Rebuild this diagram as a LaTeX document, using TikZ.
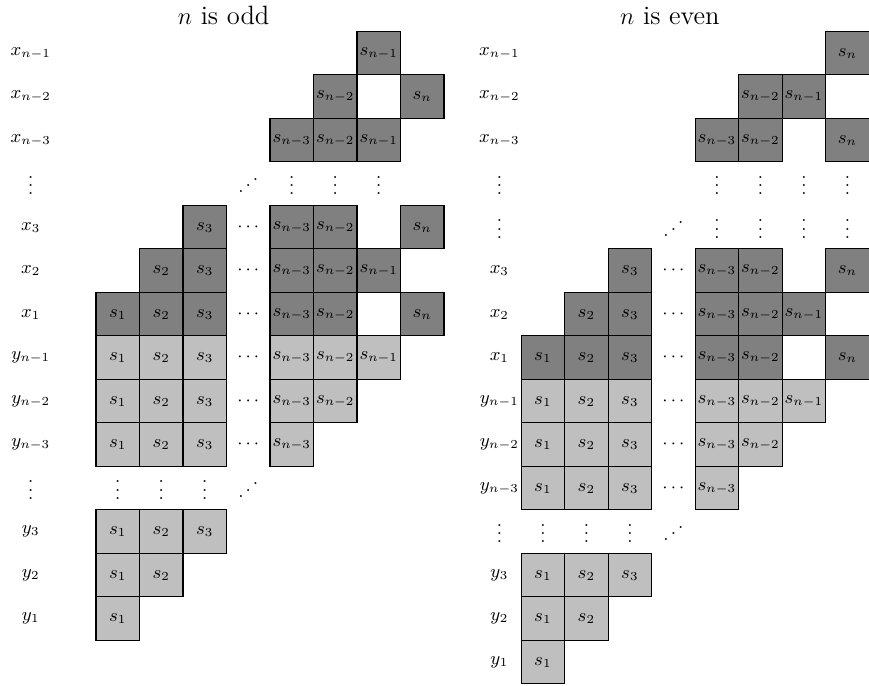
\documentclass[tikz,border=0pt]{standalone}
\usepackage{graphicx}
\newcommand\myiddots{\reflectbox{$\ddots$}}
\newcommand\Lc[4]{\node[#1] (L#2-#3) at ({1.707+#3},{1.22+#2}) {$#4$};}
\newcommand\Rc[4]{\node[#1] (R#2-#3) at ({11.48+#3},{1.22+#2}) {$#4$};}
\begin{document}
\begin{tikzpicture}[x=0.75cm,y=-0.75cm,font=\small,
  dk/.style={draw=black,fill=black!50,minimum size=0.75cm,inner sep=0pt,line width=0.5pt},
  lt/.style={draw=black,fill=black!25,minimum size=0.75cm,inner sep=0pt,line width=0.5pt},
  tx/.style={inner sep=0pt},
  vd/.style={inner sep=0pt,yshift=2pt},
  ttl/.style={inner sep=0pt,font=\fontsize{13}{15}\selectfont}]
\useasboundingbox (0,0) rectangle (19.977,15.77);
% titles
\node[ttl] (tL) at (5.14,0.36) {$n$ is odd};
\node[ttl] (tR) at (15.40,0.36) {$n$ is even};
% ---------- left (n odd) ----------
\node[tx] (lab0) at (0.707,1.22) {$x_{n-1}$};
\node[tx] (lab1) at (0.707,2.22) {$x_{n-2}$};
\node[tx] (lab2) at (0.707,3.22) {$x_{n-3}$};
\node[vd] (lab3) at (0.707,4.22) {$\vdots$};
\node[tx] (lab4) at (0.707,5.22) {$x_3$};
\node[tx] (lab5) at (0.707,6.22) {$x_2$};
\node[tx] (lab6) at (0.707,7.22) {$x_1$};
\node[tx] (lab7) at (0.707,8.22) {$y_{n-1}$};
\node[tx] (lab8) at (0.707,9.22) {$y_{n-2}$};
\node[tx] (lab9) at (0.707,10.22) {$y_{n-3}$};
\node[vd] (lab10) at (0.707,11.22) {$\vdots$};
\node[tx] (lab11) at (0.707,12.22) {$y_3$};
\node[tx] (lab12) at (0.707,13.22) {$y_2$};
\node[tx] (lab13) at (0.707,14.22) {$y_1$};
% row 0
\Lc{dk}{0}{7}{s_{n-1}}
% row 1
\Lc{dk}{1}{6}{s_{n-2}}
\Lc{dk}{1}{8}{s_n}
% row 2
\Lc{dk}{2}{5}{s_{n-3}}
\Lc{dk}{2}{6}{s_{n-2}}
\Lc{dk}{2}{7}{s_{n-1}}
% row 3
\node[vd] (L3-4) at ({1.707+4},4.22) {\myiddots};
\Lc{vd}{3}{5}{\vdots}
\Lc{vd}{3}{6}{\vdots}
\Lc{vd}{3}{7}{\vdots}
% row 4
\Lc{dk}{4}{3}{s_3}
\Lc{tx}{4}{4}{\cdots}
\Lc{dk}{4}{5}{s_{n-3}}
\Lc{dk}{4}{6}{s_{n-2}}
\Lc{dk}{4}{8}{s_n}
% row 5
\Lc{dk}{5}{2}{s_2}
\Lc{dk}{5}{3}{s_3}
\Lc{tx}{5}{4}{\cdots}
\Lc{dk}{5}{5}{s_{n-3}}
\Lc{dk}{5}{6}{s_{n-2}}
\Lc{dk}{5}{7}{s_{n-1}}
% row 6
\Lc{dk}{6}{1}{s_1}
\Lc{dk}{6}{2}{s_2}
\Lc{dk}{6}{3}{s_3}
\Lc{tx}{6}{4}{\cdots}
\Lc{dk}{6}{5}{s_{n-3}}
\Lc{dk}{6}{6}{s_{n-2}}
\Lc{dk}{6}{8}{s_n}
% row 7
\Lc{lt}{7}{1}{s_1}
\Lc{lt}{7}{2}{s_2}
\Lc{lt}{7}{3}{s_3}
\Lc{tx}{7}{4}{\cdots}
\Lc{lt}{7}{5}{s_{n-3}}
\Lc{lt}{7}{6}{s_{n-2}}
\Lc{lt}{7}{7}{s_{n-1}}
% row 8
\Lc{lt}{8}{1}{s_1}
\Lc{lt}{8}{2}{s_2}
\Lc{lt}{8}{3}{s_3}
\Lc{tx}{8}{4}{\cdots}
\Lc{lt}{8}{5}{s_{n-3}}
\Lc{lt}{8}{6}{s_{n-2}}
% row 9
\Lc{lt}{9}{1}{s_1}
\Lc{lt}{9}{2}{s_2}
\Lc{lt}{9}{3}{s_3}
\Lc{tx}{9}{4}{\cdots}
\Lc{lt}{9}{5}{s_{n-3}}
% row 10
\Lc{vd}{10}{1}{\vdots}
\Lc{vd}{10}{2}{\vdots}
\Lc{vd}{10}{3}{\vdots}
\node[vd] (L10-4) at ({1.707+4},11.22) {\myiddots};
% rows 11-13
\Lc{lt}{11}{1}{s_1}
\Lc{lt}{11}{2}{s_2}
\Lc{lt}{11}{3}{s_3}
\Lc{lt}{12}{1}{s_1}
\Lc{lt}{12}{2}{s_2}
\Lc{lt}{13}{1}{s_1}
% ---------- right (n even) ----------
\node[tx] (rlab0) at (11.48,1.22) {$x_{n-1}$};
\node[tx] (rlab1) at (11.48,2.22) {$x_{n-2}$};
\node[tx] (rlab2) at (11.48,3.22) {$x_{n-3}$};
\node[vd] (rlab3) at (11.48,4.22) {$\vdots$};
\node[vd] (rlab4) at (11.48,5.22) {$\vdots$};
\node[tx] (rlab5) at (11.48,6.22) {$x_3$};
\node[tx] (rlab6) at (11.48,7.22) {$x_2$};
\node[tx] (rlab7) at (11.48,8.22) {$x_1$};
\node[tx] (rlab8) at (11.48,9.22) {$y_{n-1}$};
\node[tx] (rlab9) at (11.48,10.22) {$y_{n-2}$};
\node[tx] (rlab10) at (11.48,11.22) {$y_{n-3}$};
\node[vd] (rlab11) at (11.48,12.22) {$\vdots$};
\node[tx] (rlab12) at (11.48,13.22) {$y_3$};
\node[tx] (rlab13) at (11.48,14.22) {$y_2$};
\node[tx] (rlab14) at (11.48,15.22) {$y_1$};
% row 0
\Rc{dk}{0}{8}{s_n}
% row 1
\Rc{dk}{1}{6}{s_{n-2}}
\Rc{dk}{1}{7}{s_{n-1}}
% row 2
\Rc{dk}{2}{5}{s_{n-3}}
\Rc{dk}{2}{6}{s_{n-2}}
\Rc{dk}{2}{8}{s_n}
% row 3
\Rc{vd}{3}{5}{\vdots}
\Rc{vd}{3}{6}{\vdots}
\Rc{vd}{3}{7}{\vdots}
\Rc{vd}{3}{8}{\vdots}
% row 4
\node[vd] (R4-4) at ({11.48+4},5.22) {\myiddots};
\Rc{vd}{4}{5}{\vdots}
\Rc{vd}{4}{6}{\vdots}
\Rc{vd}{4}{7}{\vdots}
\Rc{vd}{4}{8}{\vdots}
% row 5
\Rc{dk}{5}{3}{s_3}
\Rc{tx}{5}{4}{\cdots}
\Rc{dk}{5}{5}{s_{n-3}}
\Rc{dk}{5}{6}{s_{n-2}}
\Rc{dk}{5}{8}{s_n}
% row 6
\Rc{dk}{6}{2}{s_2}
\Rc{dk}{6}{3}{s_3}
\Rc{tx}{6}{4}{\cdots}
\Rc{dk}{6}{5}{s_{n-3}}
\Rc{dk}{6}{6}{s_{n-2}}
\Rc{dk}{6}{7}{s_{n-1}}
% row 7
\Rc{dk}{7}{1}{s_1}
\Rc{dk}{7}{2}{s_2}
\Rc{dk}{7}{3}{s_3}
\Rc{tx}{7}{4}{\cdots}
\Rc{dk}{7}{5}{s_{n-3}}
\Rc{dk}{7}{6}{s_{n-2}}
\Rc{dk}{7}{8}{s_n}
% row 8
\Rc{lt}{8}{1}{s_1}
\Rc{lt}{8}{2}{s_2}
\Rc{lt}{8}{3}{s_3}
\Rc{tx}{8}{4}{\cdots}
\Rc{lt}{8}{5}{s_{n-3}}
\Rc{lt}{8}{6}{s_{n-2}}
\Rc{lt}{8}{7}{s_{n-1}}
% row 9
\Rc{lt}{9}{1}{s_1}
\Rc{lt}{9}{2}{s_2}
\Rc{lt}{9}{3}{s_3}
\Rc{tx}{9}{4}{\cdots}
\Rc{lt}{9}{5}{s_{n-3}}
\Rc{lt}{9}{6}{s_{n-2}}
% row 10
\Rc{lt}{10}{1}{s_1}
\Rc{lt}{10}{2}{s_2}
\Rc{lt}{10}{3}{s_3}
\Rc{tx}{10}{4}{\cdots}
\Rc{lt}{10}{5}{s_{n-3}}
% row 11
\Rc{vd}{11}{1}{\vdots}
\Rc{vd}{11}{2}{\vdots}
\Rc{vd}{11}{3}{\vdots}
\node[vd] (R11-4) at ({11.48+4},12.22) {\myiddots};
% rows 12-14
\Rc{lt}{12}{1}{s_1}
\Rc{lt}{12}{2}{s_2}
\Rc{lt}{12}{3}{s_3}
\Rc{lt}{13}{1}{s_1}
\Rc{lt}{13}{2}{s_2}
\Rc{lt}{14}{1}{s_1}
\end{tikzpicture}
\end{document}
